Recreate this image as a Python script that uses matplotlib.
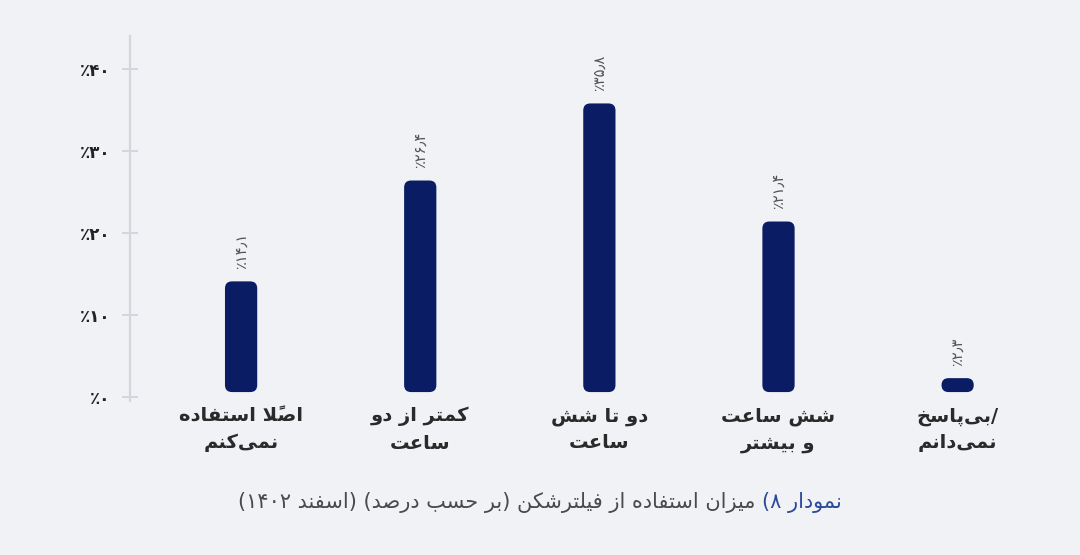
import matplotlib
matplotlib.use("Agg")
import matplotlib.pyplot as plt
from matplotlib.patches import FancyBboxPatch
from matplotlib.offsetbox import TextArea, HPacker, AnchoredOffsetbox

# data
categories = ["اصلاً استفاده\nنمی‌کنم", "کمتر از دو\nساعت", "دو تا شش\nساعت",
              "شش ساعت\nو بیشتر", "بی‌پاسخ/\nنمی‌دانم"]
values = [14.1, 26.4, 35.8, 21.4, 2.3]
yticks = [0, 10, 20, 30, 40]
caption_head = "نمودار ۸)"
caption_rest = "میزان استفاده از فیلترشکن (بر حسب درصد) (اسفند ۱۴۰۲)"

BG = "#f0f2f5"
BAR = "#0a1d64"

# --- tiny persian shaper (matplotlib has no arabic shaping / bidi) ---
FORMS = {
    "ا": (0xFE8D, 0xFE8E), "أ": (0xFE83, 0xFE84), "آ": (0xFE81, 0xFE82),
    "د": (0xFEA9, 0xFEAA), "ذ": (0xFEAB, 0xFEAC), "ر": (0xFEAD, 0xFEAE),
    "ز": (0xFEAF, 0xFEB0), "ژ": (0xFB8A, 0xFB8B), "و": (0xFEED, 0xFEEE),
    "ب": (0xFE8F, 0xFE90, 0xFE91, 0xFE92), "پ": (0xFB56, 0xFB57, 0xFB58, 0xFB59),
    "ت": (0xFE95, 0xFE96, 0xFE97, 0xFE98), "ث": (0xFE99, 0xFE9A, 0xFE9B, 0xFE9C),
    "ج": (0xFE9D, 0xFE9E, 0xFE9F, 0xFEA0), "چ": (0xFB7A, 0xFB7B, 0xFB7C, 0xFB7D),
    "ح": (0xFEA1, 0xFEA2, 0xFEA3, 0xFEA4), "خ": (0xFEA5, 0xFEA6, 0xFEA7, 0xFEA8),
    "س": (0xFEB1, 0xFEB2, 0xFEB3, 0xFEB4), "ش": (0xFEB5, 0xFEB6, 0xFEB7, 0xFEB8),
    "ص": (0xFEB9, 0xFEBA, 0xFEBB, 0xFEBC), "ع": (0xFEC9, 0xFECA, 0xFECB, 0xFECC),
    "ف": (0xFED1, 0xFED2, 0xFED3, 0xFED4), "ک": (0xFB8E, 0xFB8F, 0xFB90, 0xFB91),
    "گ": (0xFB92, 0xFB93, 0xFB94, 0xFB95), "ل": (0xFEDD, 0xFEDE, 0xFEDF, 0xFEE0),
    "م": (0xFEE1, 0xFEE2, 0xFEE3, 0xFEE4), "ن": (0xFEE5, 0xFEE6, 0xFEE7, 0xFEE8),
    "ه": (0xFEE9, 0xFEEA, 0xFEEB, 0xFEEC), "ی": (0xFBFC, 0xFBFD, 0xFBFE, 0xFBFF),
}
LAM_ALEF = {"ا": (0xFEFB, 0xFEFC), "أ": (0xFEF7, 0xFEF8), "آ": (0xFEF5, 0xFEF6)}
MARKS = set(chr(c) for c in range(0x064B, 0x0653))
DIGITS = set("۰۱۲۳۴۵۶۷۸۹٫")
ZWNJ = "\u200c"


def shape(s):
    chars = list(s)
    out, skip = [], set()

    def neighbour(i, step):
        j = i + step
        while 0 <= j < len(chars) and chars[j] in MARKS:
            j += step
        return chars[j] if 0 <= j < len(chars) else None

    for i, c in enumerate(chars):
        if i in skip or c == ZWNJ:
            continue
        if c not in FORMS:
            out.append(c)
            continue
        p, n = neighbour(i, -1), neighbour(i, 1)
        jp = p in FORMS and len(FORMS[p]) == 4
        if c == "ل" and n in LAM_ALEF:
            out.append(chr(LAM_ALEF[n][1 if jp else 0]))
            j = i + 1
            while chars[j] in MARKS:
                j += 1
            skip.add(j)
            continue
        f = FORMS[c]
        jn = len(f) == 4 and n in FORMS
        if jp and jn:
            out.append(chr(f[3]))
        elif jp:
            out.append(chr(f[1]))
        elif jn:
            out.append(chr(f[2]))
        else:
            out.append(chr(f[0]))
    return out


def fa(s):
    # trailing slash stays on the right, like in the source design
    if s.endswith("/"):
        return fa(s[:-1]) + "/"
    runs = []
    for ch in shape(s):
        if ch in MARKS and runs:
            runs[-1][-1] += ch
        elif ch in DIGITS and runs and runs[-1][0][0] in DIGITS:
            runs[-1].append(ch)
        else:
            runs.append([ch])
    mirror = {"(": ")", ")": "("}
    return "".join("".join(mirror.get(t, t) for t in r) for r in reversed(runs))


def fa_num(x):
    return str(x).translate(str.maketrans("0123456789.", "۰۱۲۳۴۵۶۷۸۹٫"))


plt.rcParams["font.family"] = ["DejaVu Sans"]

fig = plt.figure(figsize=(10.8, 5.55), dpi=100, facecolor=BG)
ax = fig.add_axes([0.1204, 0.2773, 0.8426, 0.6575])
ax.set_facecolor(BG)
ax.set_xlim(-0.62, 4.46)
ax.set_ylim(-0.5, 44)

for s in ["top", "right", "bottom"]:
    ax.spines[s].set_visible(False)
ax.spines["left"].set_color("#d3d6db")
ax.spines["left"].set_linewidth(1.6)

ax.set_yticks(yticks)
ax.set_yticklabels(["٪" + fa_num(t) for t in yticks], fontsize=12,
                   fontweight="bold", color="#222222")
ax.tick_params(axis="y", direction="inout", length=12, width=1.4,
               color="#d3d6db", pad=8)

ax.set_xticks(range(len(categories)))
ax.set_xticklabels(["\n".join(fa(l) for l in c.split("\n")) for c in categories],
                   fontsize=14, fontweight="bold", color="#2a2a2a", linespacing=1.5)
ax.tick_params(axis="x", length=0, pad=4)

# rounded bars
fig.canvas.draw()
px_x = ax.transData.transform((1, 0))[0] - ax.transData.transform((0, 0))[0]
px_y = ax.transData.transform((0, 1))[1] - ax.transData.transform((0, 0))[1]
width = 0.18
base = 0.6
for i, v in enumerate(values):
    bar = FancyBboxPatch((i - width / 2, base), width, v - base,
                         boxstyle=f"round,pad=0,rounding_size={7 / px_x}",
                         mutation_aspect=px_x / px_y, facecolor=BAR,
                         edgecolor="none")
    ax.add_patch(bar)
    ax.annotate("٪" + fa_num(v), xy=(i, v), xytext=(0, 9),
                textcoords="offset points", rotation=90, ha="center",
                va="bottom", fontsize=10.5, color="#555555")

# caption, two colours
rest = TextArea(fa(caption_rest), textprops=dict(fontsize=15, color="#4a4a4a"))
head = TextArea(fa(caption_head), textprops=dict(fontsize=15, color="#2c4a9a"))
box = HPacker(children=[rest, head], align="baseline", pad=0, sep=5)
anch = AnchoredOffsetbox(loc="center", child=box, frameon=False,
                         bbox_to_anchor=(0.5, 0.094),
                         bbox_transform=fig.transFigure, borderpad=0)
ax.add_artist(anch)

fig.savefig("out.png", dpi=100, facecolor=BG)
